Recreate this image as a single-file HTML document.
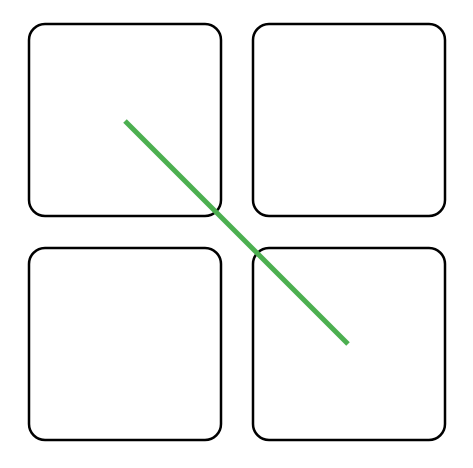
<!DOCTYPE html>
<html>
<head>
<meta charset="utf-8">
<style>
  html, body { margin: 0; padding: 0; background: #ffffff; }
  svg { display: block; }
</style>
</head>
<body>
<svg width="473" height="468" viewBox="0 0 473 468" xmlns="http://www.w3.org/2000/svg">
  <rect x="29" y="24" width="192" height="192" rx="16" ry="16" fill="none" stroke="#000" stroke-width="2.5"/>
  <rect x="253" y="24" width="192" height="192" rx="16" ry="16" fill="none" stroke="#000" stroke-width="2.5"/>
  <rect x="29" y="248" width="192" height="192" rx="16" ry="16" fill="none" stroke="#000" stroke-width="2.5"/>
  <rect x="253" y="248" width="192" height="192" rx="16" ry="16" fill="none" stroke="#000" stroke-width="2.5"/>
  <line x1="125" y1="121" x2="348" y2="344" stroke="#4caf50" stroke-width="5"/>
</svg>
</body>
</html>
